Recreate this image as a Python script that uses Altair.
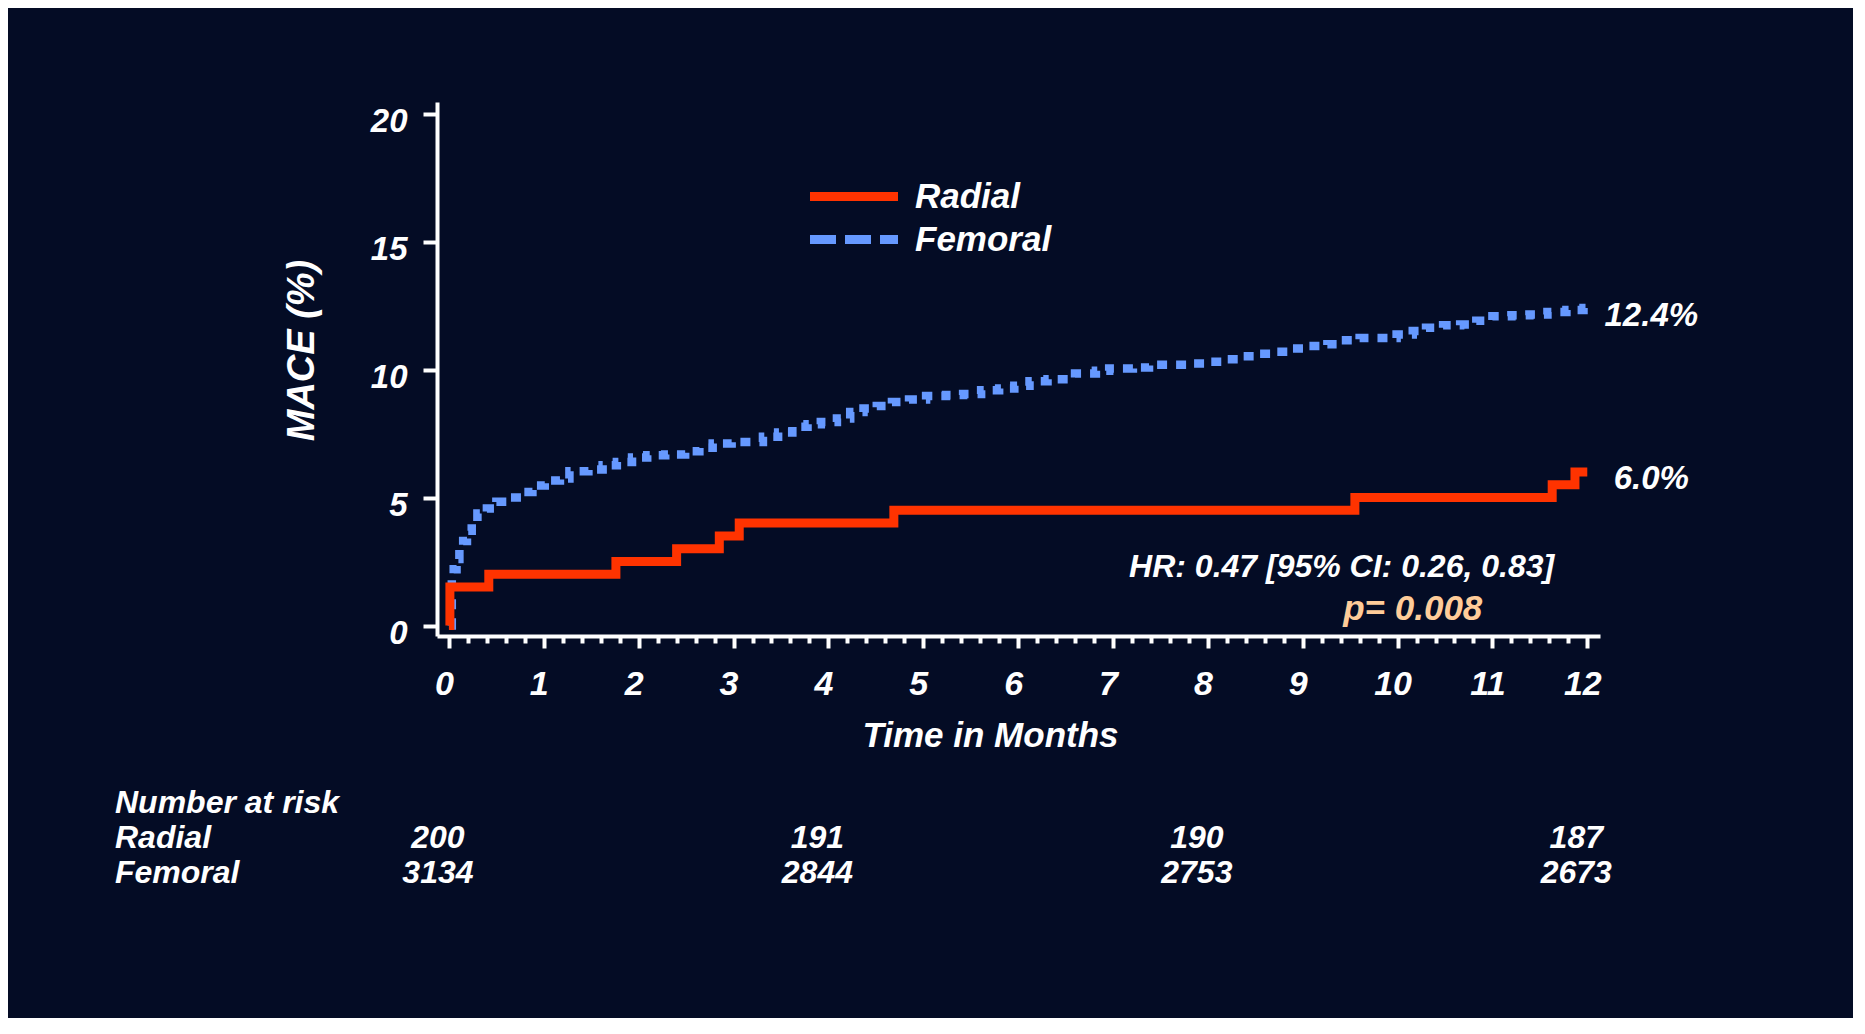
import altair as alt
import pandas as pd

# ---------------- data ----------------
radial_t = [0.0, 0.01, 0.42, 1.76, 2.40, 2.85, 3.06, 4.69, 9.55, 11.63, 11.87, 12.0]
radial_v = [0.0, 1.5, 2.0, 2.5, 3.0, 3.5, 4.0, 4.5, 5.0, 5.5, 6.0, 6.0]

femoral_t = [0.0, 0.03, 0.05, 0.08, 0.11, 0.15, 0.19, 0.24, 0.30, 0.40, 0.50, 0.65, 0.77,
             0.88, 1.01, 1.17, 1.27, 1.47, 1.62, 1.77, 1.93, 2.09, 2.28, 2.49, 2.64, 2.78,
             2.98, 3.31, 3.47, 3.62, 3.78, 3.92, 4.09, 4.23, 4.37, 4.51, 4.67, 4.85, 5.03,
             5.24, 5.42, 5.61, 5.80, 5.96, 6.12, 6.31, 6.53, 6.60, 6.82, 6.96, 7.21, 7.38,
             7.79, 8.00, 8.17, 8.34, 8.54, 8.73, 8.87, 9.07, 9.26, 9.41, 9.60, 9.99, 10.16,
             10.30, 10.48, 10.66, 10.83, 11.00, 11.20, 11.39, 11.58, 11.78, 11.96, 12.0]
femoral_v = [0.0, 1.8, 2.2, 2.6, 2.97, 3.3, 3.7, 4.05, 4.38, 4.57, 4.83, 5.0, 5.22,
             5.47, 5.66, 5.74, 6.03, 6.09, 6.26, 6.39, 6.56, 6.65, 6.68, 6.81, 6.94, 7.11,
             7.17, 7.37, 7.54, 7.76, 7.86, 7.95, 8.09, 8.34, 8.48, 8.57, 8.73, 8.83, 8.97,
             9.0, 9.04, 9.19, 9.26, 9.37, 9.54, 9.62, 9.67, 9.84, 9.95, 10.04, 10.08, 10.19,
             10.23, 10.3, 10.4, 10.52, 10.62, 10.69, 10.82, 10.92, 10.99, 11.14, 11.23, 11.37, 11.5,
             11.63, 11.73, 11.76, 11.9, 12.08, 12.12, 12.15, 12.25, 12.32, 12.4, 12.4]

groups = ["Radial", "Femoral"]
risk_months = [0, 4, 8, 12]
risk_radial = [200, 191, 190, 187]
risk_femoral = [3134, 2844, 2753, 2673]
y_ticks = [0, 5, 10, 15, 20]
x_ticks = [round(i * 0.2, 1) for i in range(61)]
hr_text = "HR: 0.47 [95% CI: 0.26, 0.83]"
p_text = "p= 0.008"

# ---------------- styles ----------------
BG = "#040c25"
RED = "#ff3300"
BLUE = "#6699ff"
PEACH = "#ffcc99"
FONT = "Liberation Sans, Arial, Helvetica, sans-serif"

df_rad = pd.DataFrame({"month": radial_t, "mace": radial_v, "group": "Radial"})
df_fem = pd.DataFrame({"month": femoral_t, "mace": femoral_v, "group": "Femoral"})
df_all = pd.concat([df_rad, df_fem], ignore_index=True)
df_end = pd.DataFrame({
    "month": [femoral_t[-1], radial_t[-1]],
    "mace": [femoral_v[-1], radial_v[-1]],
    "label": [f"{femoral_v[-1]:.1f}%", f"{radial_v[-1]:.1f}%"],
})
df_risk = pd.DataFrame({"month": risk_months, "radial": risk_radial, "femoral": risk_femoral})

xscale = alt.Scale(domain=[-0.126, 12.134], nice=False, zero=False)
yscale = alt.Scale(domain=[-0.41, 20.45], nice=False, zero=False)

is_major = "abs(datum.value - round(datum.value)) < 0.001"

xaxis = alt.Axis(
    values=x_ticks, tickCount=200,
    tickSize={"condition": {"test": is_major, "value": 12}, "value": 7},
    tickWidth=4, tickColor="white",
    domainWidth=4, domainColor="white",
    labelExpr=f"{is_major} ? format(datum.value, 'd') : ''",
    labelFont=FONT, labelFontSize=34, labelFontStyle="italic", labelFontWeight="bold",
    labelColor="white", labelPadding=19, labelOffset=-5, labelOverlap=False,
    labelFlush=False, labelBound=False, grid=False,
    title="Time in Months", titleFont=FONT, titleFontSize=35, titleFontStyle="italic",
    titleFontWeight="bold", titleColor="white", titleX=553, titleY=110,
    titleAlign="center", titleBaseline="alphabetic",
)
yaxis = alt.Axis(
    values=y_ticks, tickSize=14, tickWidth=4, tickColor="white",
    domainWidth=4, domainColor="white",
    labelFont=FONT, labelFontSize=33, labelFontStyle="italic", labelFontWeight="bold",
    labelColor="white", labelPadding=16, labelOffset=8, labelOverlap=False,
    labelFlush=False, labelBound=False, grid=False,
    title="MACE (%)", titleFont=FONT, titleFontSize=38, titleFontStyle="italic",
    titleFontWeight="bold", titleColor="white", titleX=-124, titleY=248,
    titleAngle=270, titleAlign="center", titleBaseline="alphabetic",
)

legend = alt.Legend(
    orient="none", legendX=368.5, legendY=73, title=None, padding=0,
    symbolType="stroke", symbolSize=7744, symbolStrokeWidth=9,
    clipHeight=43, rowPadding=0, labelOffset=12.5,
    labelFont=FONT, labelFontSize=35, labelFontStyle="italic", labelFontWeight="bold",
    labelColor="white",
)

fem_line = alt.Chart(df_fem).mark_line(
    interpolate="step-after", color=BLUE, strokeWidth=8.5, strokeDash=[10, 9]
).encode(
    x=alt.X("month:Q", scale=xscale, axis=xaxis),
    y=alt.Y("mace:Q", scale=yscale, axis=yaxis),
)

rad_line = alt.Chart(df_rad).mark_line(
    interpolate="step-after", color=RED, strokeWidth=9
).encode(x="month:Q", y="mace:Q")

legend_layer = alt.Chart(df_all).transform_filter("false").mark_line(strokeWidth=9).encode(
    x="month:Q", y="mace:Q",
    color=alt.Color("group:N", scale=alt.Scale(domain=groups, range=[RED, BLUE]), legend=legend),
    strokeDash=alt.StrokeDash("group:N", scale=alt.Scale(domain=groups, range=[[1, 0], [26, 9]]),
                              legend=legend),
)

end_labels = alt.Chart(df_end).mark_text(
    align="center", baseline="middle", dx=64, dy=7.5, font=FONT, fontSize=33,
    fontStyle="italic", fontWeight="bold", color="white"
).encode(x="month:Q", y="mace:Q", text="label:N")

one_row = "datum.label == '12.4%'"

hr_label = alt.Chart(df_end).transform_filter(one_row).mark_text(
    align="center", baseline="alphabetic", font=FONT, fontSize=32,
    fontStyle="italic", fontWeight="bold", color="white", text=hr_text
).encode(x=alt.datum(9.41), y=alt.datum(1.9))

p_label = alt.Chart(df_end).transform_filter(one_row).mark_text(
    align="center", baseline="alphabetic", font=FONT, fontSize=35,
    fontStyle="italic", fontWeight="bold", color=PEACH, text=p_text
).encode(x=alt.datum(10.16), y=alt.datum(0.23))

txt = dict(font=FONT, fontSize=32, fontStyle="italic", fontWeight="bold", color="white")

risk_header = alt.Chart(df_end).transform_filter(one_row).mark_text(
    align="left", baseline="alphabetic", text="Number at risk", **txt
).encode(x=alt.value(-322), y=alt.value(711.3))
risk_rad_lab = alt.Chart(df_end).transform_filter(one_row).mark_text(
    align="left", baseline="alphabetic", text="Radial", **txt
).encode(x=alt.value(-322), y=alt.value(746.3))
risk_fem_lab = alt.Chart(df_end).transform_filter(one_row).mark_text(
    align="left", baseline="alphabetic", text="Femoral", **txt
).encode(x=alt.value(-322), y=alt.value(781.3))

risk_rad = alt.Chart(df_risk).mark_text(
    align="center", baseline="alphabetic", dx=-11, **txt
).encode(x="month:Q", y=alt.value(746.3), text="radial:Q")
risk_fem = alt.Chart(df_risk).mark_text(
    align="center", baseline="alphabetic", dx=-11, **txt
).encode(x="month:Q", y=alt.value(781.3), text="femoral:Q")

chart = alt.layer(
    fem_line, rad_line, legend_layer, end_labels, hr_label, p_label,
    risk_header, risk_rad_lab, risk_fem_lab, risk_rad, risk_fem,
).properties(
    width=1163, height=534,
    autosize=alt.AutoSizeParams(type="none"),
    padding={"left": 429, "top": 94, "right": 253, "bottom": 382},
    background=BG,
).configure_view(stroke=None)

chart.save("out.html", embed_options={"renderer": "svg", "actions": False})
